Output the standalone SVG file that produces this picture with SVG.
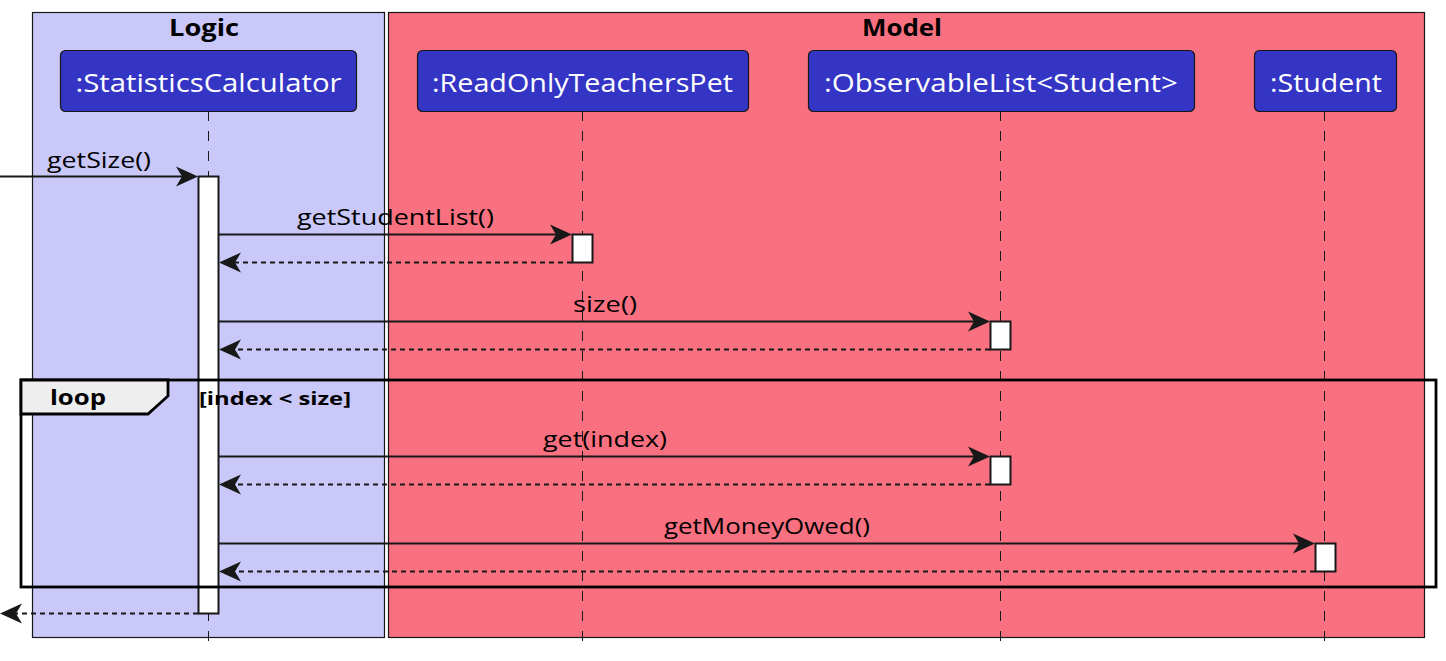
<svg xmlns="http://www.w3.org/2000/svg" width="1446" height="661" viewBox="0 0 1446 661">
<style>
.box{stroke:#181818;stroke-width:1.2}
.ptxt{font-family:"Open Sans","DejaVu Sans",sans-serif;font-size:25px;fill:#ffffff;text-anchor:middle}
.btxt{font-family:"Open Sans","DejaVu Sans",sans-serif;font-size:24px;font-weight:bold;fill:#000000;text-anchor:middle}
.mtxt{font-family:"Open Sans","DejaVu Sans",sans-serif;font-size:21px;fill:#000000}
.life{stroke:#181818;stroke-width:1;stroke-dasharray:10,10;fill:none}
.act{fill:#ffffff;stroke:#181818;stroke-width:2}
.msg{stroke:#181818;stroke-width:2;fill:none}
.ret{stroke:#181818;stroke-width:2;fill:none;stroke-dasharray:5,4}
.head{fill:#181818}
</style>
<rect width="1446" height="661" fill="#ffffff"/>
<g id="box-logic">
<rect class="box" x="32.5" y="12.5" width="352" height="625" fill="#C9C8F9"/>
<text class="btxt" x="204" y="36" textLength="70" lengthAdjust="spacingAndGlyphs">Logic</text>
</g>
<g id="box-model">
<rect class="box" x="388.5" y="12.5" width="1036" height="625" fill="#F97181"/>
<text class="btxt" x="902" y="36" textLength="80" lengthAdjust="spacingAndGlyphs">Model</text>
</g>
<g id="lifelines">
<line class="life" x1="208.5" y1="111" x2="208.5" y2="645"/>
<line class="life" x1="582.5" y1="111" x2="582.5" y2="645"/>
<line class="life" x1="1000.5" y1="111" x2="1000.5" y2="645"/>
<line class="life" x1="1324.5" y1="111" x2="1324.5" y2="645"/>
</g>
<g id="p-statscalc">
<rect x="60.5" y="50.5" width="296" height="61" rx="5" fill="#3434C5" class="box"/>
<text class="ptxt" x="208.5" y="92" textLength="266" lengthAdjust="spacingAndGlyphs">:StatisticsCalculator</text>
</g>
<g id="p-readonly">
<rect x="417.5" y="50.5" width="331" height="61" rx="5" fill="#3434C5" class="box"/>
<text class="ptxt" x="582.5" y="92" textLength="301" lengthAdjust="spacingAndGlyphs">:ReadOnlyTeachersPet</text>
</g>
<g id="p-observable">
<rect x="808.5" y="50.5" width="386" height="61" rx="5" fill="#3434C5" class="box"/>
<text class="ptxt" x="1001" y="92" textLength="354" lengthAdjust="spacingAndGlyphs">:ObservableList&lt;Student&gt;</text>
</g>
<g id="p-student">
<rect x="1254.5" y="50.5" width="142" height="61" rx="5" fill="#3434C5" class="box"/>
<text class="ptxt" x="1326" y="92" textLength="112" lengthAdjust="spacingAndGlyphs">:Student</text>
</g>
<g id="activations">
<rect class="act" x="198.5" y="176.5" width="20" height="437"/>
<rect class="act" x="572.5" y="234.5" width="20" height="28"/>
<rect class="act" x="990.5" y="321.5" width="20" height="28"/>
<rect class="act" x="990.5" y="456.5" width="20" height="28"/>
<rect class="act" x="1315.5" y="543.5" width="20" height="28"/>
</g>
<g id="loop">
<rect x="21" y="380" width="1415" height="207" fill="none" stroke="#000000" stroke-width="2.8"/>
<path d="M21,380 H168 V396 L148,414 H21 Z" fill="#EEEEEE" stroke="#000000" stroke-width="2.8"/>
<text x="50" y="405" font-family="Open Sans, DejaVu Sans, sans-serif" font-size="22" font-weight="bold" textLength="56" lengthAdjust="spacingAndGlyphs">loop</text>
<text x="199" y="405" font-family="Open Sans, DejaVu Sans, sans-serif" font-size="17" font-weight="bold" textLength="152" lengthAdjust="spacingAndGlyphs">[index &lt; size]</text>
</g>
<g id="connectors">
<line class="msg" x1="0" y1="176.5" x2="192" y2="176.5"/>
<polygon class="head" points="198,176.5 176,166.5 182,176.5 176,186.5"/>
<text class="mtxt" x="47" y="168" textLength="104" lengthAdjust="spacingAndGlyphs">getSize()</text>

<line class="msg" x1="219" y1="234.5" x2="566" y2="234.5"/>
<polygon class="head" points="572,234.5 550,224.5 556,234.5 550,244.5"/>
<text class="mtxt" x="297" y="225" textLength="197" lengthAdjust="spacingAndGlyphs">getStudentList()</text>
<line class="ret" x1="572" y1="262.5" x2="225" y2="262.5"/>
<polygon class="head" points="219,262.5 241,252.5 235,262.5 241,272.5"/>

<line class="msg" x1="219" y1="321.5" x2="984" y2="321.5"/>
<polygon class="head" points="990,321.5 968,311.5 974,321.5 968,331.5"/>
<text class="mtxt" x="573" y="312" textLength="64" lengthAdjust="spacingAndGlyphs">size()</text>
<line class="ret" x1="990" y1="349.5" x2="225" y2="349.5"/>
<polygon class="head" points="219,349.5 241,339.5 235,349.5 241,359.5"/>

<line class="msg" x1="219" y1="456.5" x2="984" y2="456.5"/>
<polygon class="head" points="990,456.5 968,446.5 974,456.5 968,466.5"/>
<text class="mtxt" x="543" y="447" textLength="124" lengthAdjust="spacingAndGlyphs">get(index)</text>
<line class="ret" x1="990" y1="484.5" x2="225" y2="484.5"/>
<polygon class="head" points="219,484.5 241,474.5 235,484.5 241,494.5"/>

<line class="msg" x1="219" y1="543.5" x2="1309" y2="543.5"/>
<polygon class="head" points="1315,543.5 1293,533.5 1299,543.5 1293,553.5"/>
<text class="mtxt" x="664" y="534" textLength="206" lengthAdjust="spacingAndGlyphs">getMoneyOwed()</text>
<line class="ret" x1="1315" y1="571.5" x2="225" y2="571.5"/>
<polygon class="head" points="219,571.5 241,561.5 235,571.5 241,581.5"/>

<line class="ret" x1="198" y1="613.5" x2="6" y2="613.5"/>
<polygon class="head" points="0,613.5 22,603.5 16,613.5 22,623.5"/>
</g>
</svg>
